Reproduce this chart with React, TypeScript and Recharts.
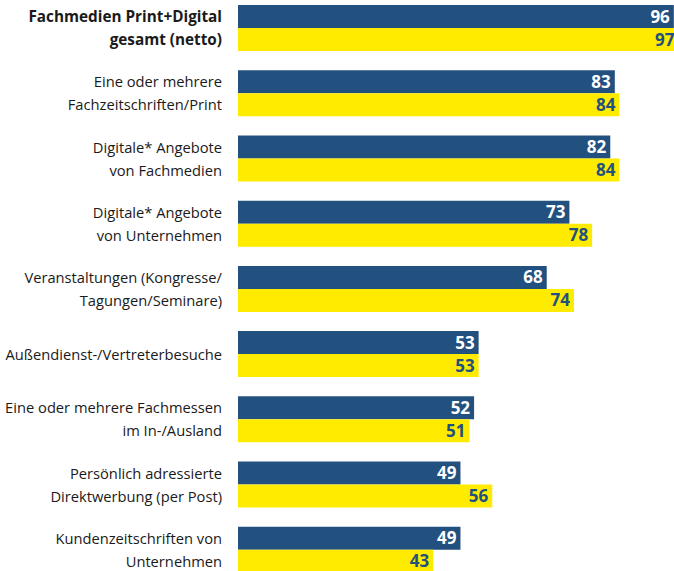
import React from "react";
import { BarChart, Bar, XAxis, YAxis, LabelList } from "recharts";

const CATEGORIES = [
  "Fachmedien Print+Digital\ngesamt (netto)",
  "Eine oder mehrere\nFachzeitschriften/Print",
  "Digitale* Angebote\nvon Fachmedien",
  "Digitale* Angebote\nvon Unternehmen",
  "Veranstaltungen (Kongresse/\nTagungen/Seminare)",
  "Außendienst-/Vertreterbesuche",
  "Eine oder mehrere Fachmessen\nim In-/Ausland",
  "Persönlich adressierte\nDirektwerbung (per Post)",
  "Kundenzeitschriften von\nUnternehmen",
];
const SERIES_BLUE = [96, 83, 82, 73, 68, 53, 52, 49, 49];
const SERIES_YELLOW = [97, 84, 84, 78, 74, 53, 51, 56, 43];

const BLUE = "#22507f";
const YELLOW = "#ffeb00";
const FONT = "'Open Sans', sans-serif";

const rows = CATEGORIES.map((label, i) => ({
  label,
  blue: SERIES_BLUE[i],
  yellow: SERIES_YELLOW[i],
}));

function CategoryTick(props: any) {
  const { y, payload, index } = props;
  const lines: string[] = String(payload.value).split("\n");
  const first = index === 0;
  const step = 23;
  const start = -((lines.length - 1) * step) / 2;
  return (
    <text
      x={222}
      y={y}
      textAnchor="end"
      fontFamily={FONT}
      fontSize={first ? 15.3 : 14.7}
      fontWeight={first ? 700 : 400}
      fill="#1a1a1a"
    >
      {lines.map((line, i) => (
        <tspan key={i} x={222} y={y + start + i * step} dominantBaseline="central">
          {line}
        </tspan>
      ))}
    </text>
  );
}

export default function App() {
  return (
    <div style={{ position: "absolute", left: 0, top: 0, width: 674, height: 571, overflow: "hidden", background: "#fff" }}>
      <div style={{ position: "absolute", left: 0, top: -5 }}>
        <BarChart
          width={692}
          height={587}
          data={rows}
          layout="vertical"
          margin={{ top: 0, right: 0, bottom: 0, left: 0 }}
          barCategoryGap={10}
          barGap={0}
        >
          <XAxis type="number" hide domain={[0, 100]} />
          <YAxis
            type="category"
            dataKey="label"
            width={238}
            axisLine={false}
            tickLine={false}
            interval={0}
            tick={<CategoryTick />}
          />
          <Bar dataKey="blue" fill={BLUE} isAnimationActive={false}>
            <LabelList
              dataKey="blue"
              position="insideRight"
              offset={4}
              style={{ fontFamily: FONT, fontSize: 17, fontWeight: 700, fill: "#ffffff" }}
            />
          </Bar>
          <Bar dataKey="yellow" fill={YELLOW} isAnimationActive={false}>
            <LabelList
              dataKey="yellow"
              position="insideRight"
              offset={4}
              style={{ fontFamily: FONT, fontSize: 17, fontWeight: 700, fill: BLUE }}
            />
          </Bar>
        </BarChart>
      </div>
    </div>
  );
}
